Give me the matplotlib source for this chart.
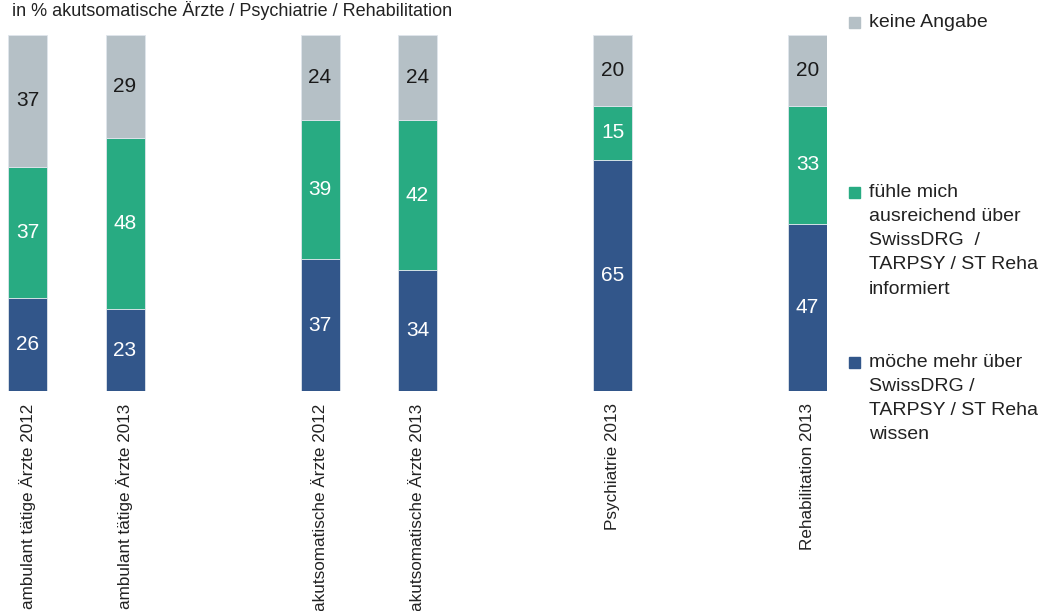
import numpy as np
import matplotlib
matplotlib.use("Agg")
import matplotlib.pyplot as plt
from matplotlib.patches import Rectangle

plt.rcParams['font.family'] = ['Liberation Sans', 'DejaVu Sans']

categories = ["ambulant tätige Ärzte 2012", "ambulant tätige Ärzte 2013",
              "akutsomatische Ärzte 2012", "akutsomatische Ärzte 2013",
              "Psychiatrie 2013", "Rehabilitation 2013"]
positions = [0, 1, 3, 4, 6, 8]

mehr_wissen = [26, 23, 37, 34, 65, 47]
informiert = [37, 48, 39, 42, 15, 33]
keine_angabe = [37, 29, 24, 24, 20, 20]

series = [
    ("möche mehr über\nSwissDRG /\nTARPSY / ST Reha\nwissen", mehr_wissen, "#32568a", "white"),
    ("fühle mich\nausreichend über\nSwissDRG  /\nTARPSY / ST Reha\ninformiert", informiert, "#28ab82", "white"),
    ("keine Angabe", keine_angabe, "#b5c0c6", "#1a1a1a"),
]

W, H = 1048, 611
fig = plt.figure(figsize=(W / 100, H / 100), dpi=100)
ax = fig.add_axes([8 / W, 1 - 391 / H, 819 / W, 356 / H])

bottom = np.zeros(len(categories))
for label, vals, col, tcol in series:
    vals = np.array(vals, dtype=float)
    ax.bar(positions, vals, bottom=bottom, width=0.4, color=col,
           edgecolor="#dfe5ec", linewidth=0.6)
    for x, b, v in zip(positions, bottom, vals):
        ax.text(x, b + v / 2, f"{int(v)}", ha="center", va="center",
                color=tcol, fontsize=15)
    bottom += vals

ax.set_xlim(-0.2, 8.2)
ax.set_ylim(0, 100)
ax.set_xticks(positions)
ax.set_xticklabels(categories, rotation=90, fontsize=12.3, color="#222222")
ax.tick_params(axis="x", length=0, pad=9)
ax.set_yticks([])
for s in ax.spines.values():
    s.set_visible(False)

fig.text(12 / W, 1 - 15.5 / H, "in % akutsomatische Ärzte / Psychiatrie / Rehabilitation",
         fontsize=13, color="#222222", va="baseline", ha="left")

# legend
leg_y = [362, 192, 22]
for (label, vals, col, tcol), yc in zip(series, leg_y):
    fig.patches.append(Rectangle((849 / W, 1 - (yc + 5.5) / H), 11 / W, 11 / H,
                                 transform=fig.transFigure, color=col))
    fig.text(869 / W, 1 - (yc - 8) / H, label, fontsize=14, color="#222222",
             va="top", ha="left", linespacing=1.55)

fig.savefig("out.png", dpi=100)
